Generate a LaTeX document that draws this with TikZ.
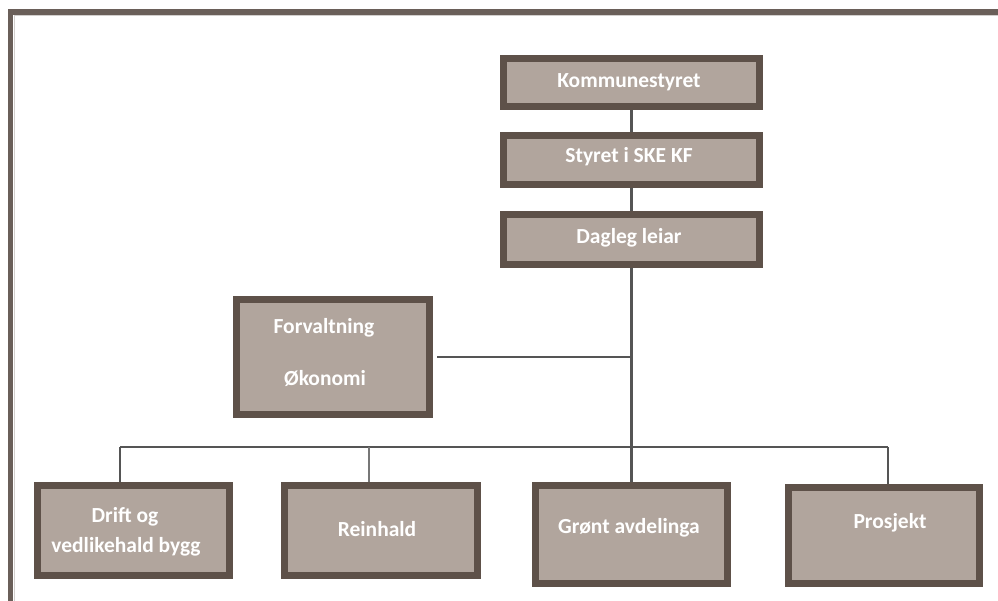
\documentclass[tikz,border=0pt]{standalone}
\usepackage{fontspec}
\setmainfont{Carlito}
\definecolor{boxfill}{HTML}{B1A59D}
\definecolor{boxedge}{HTML}{5E5149}
\definecolor{shadowc}{HTML}{CDB8A4}
\definecolor{linec}{HTML}{555555}
\definecolor{framec}{HTML}{6A5F59}
\usetikzlibrary{shadows}
\tikzset{
  every shadow/.style={fill=shadowc, opacity=1, shadow xshift=3pt, shadow yshift=-3pt},
  orgbox/.style={draw=boxedge, fill=boxfill, line width=7pt, inner sep=0pt,
    minimum width=#1, drop shadow},
  lbl/.style={text=white, font=\bfseries\fontsize{21.5}{24}\selectfont, inner sep=0pt},
  conn/.style={draw=linec, line width=2.6pt},
  thinconn/.style={draw=linec!80, line width=1.2pt},
}
\begin{document}
\begin{tikzpicture}[x=1pt,y=-1pt]
\useasboundingbox (0,0) rectangle (998,601);
\fill[white] (0,0) rectangle (998,601);
% frame
\draw[framec, line width=5.5pt] (10.5,601) -- (10.5,12) -- (998,12);
\draw[framec!30, line width=1pt] (14,601) -- (14,15.5) -- (998,15.5);
% boxes
\node[orgbox=256pt, minimum height=48pt] (komm) at (631.5,82.5) {};
\node[orgbox=256pt, minimum height=49pt] (styret) at (631.5,160) {};
\node[orgbox=256pt, minimum height=50pt] (dagleg) at (631.5,239.5) {};
\node[orgbox=193pt, minimum height=115pt] (forv) at (333,357) {};
\node[orgbox=192pt, minimum height=90pt] (drift) at (133.5,530.5) {};
\node[orgbox=193pt, minimum height=90pt] (rein) at (381,530.5) {};
\node[orgbox=192pt, minimum height=98pt] (gront) at (631.5,534.5) {};
\node[orgbox=191pt, minimum height=96pt] (prosj) at (884,535.5) {};
% connectors
\coordinate (busL) at (120,447);
\coordinate (busM) at (369,447);
\coordinate (busR) at (888,447);
\coordinate (trunkF) at (630,357);
\draw[conn] (komm.south) -- (styret.north);
\draw[conn] (styret.south) -- (dagleg.north);
\draw[conn] (dagleg.south) -- (gront.north);
\draw[conn] (forv.east) ++(4,0) -- (trunkF);
\draw[conn] (busL) -- (busR);
\draw[conn] (busL) -- (busL |- drift.north);
\draw[thinconn] (busM) -- (busM |- rein.north);
\draw[conn] (busR) -- (busR |- prosj.north);
% labels
\node[lbl] (tkomm) at (629,82) {Kommunestyret};
\node[lbl] (tstyret) at (629,157) {Styret i SKE KF};
\node[lbl] (tdagleg) at (629,238) {Dagleg leiar};
\node[lbl] (tforv1) at (324,328) {Forvaltning};
\node[lbl] (tforv2) at (325,378) {Økonomi};
\node[lbl] (tdrift1) at (125,517) {Drift og};
\node[lbl] (tdrift2) at (126,547) {vedlikehald bygg};
\node[lbl] (trein) at (377,529) {Reinhald};
\node[lbl] (tgront) at (629,528) {Grønt avdelinga};
\node[lbl] (tprosj) at (890,523) {Prosjekt};
\end{tikzpicture}
\end{document}
